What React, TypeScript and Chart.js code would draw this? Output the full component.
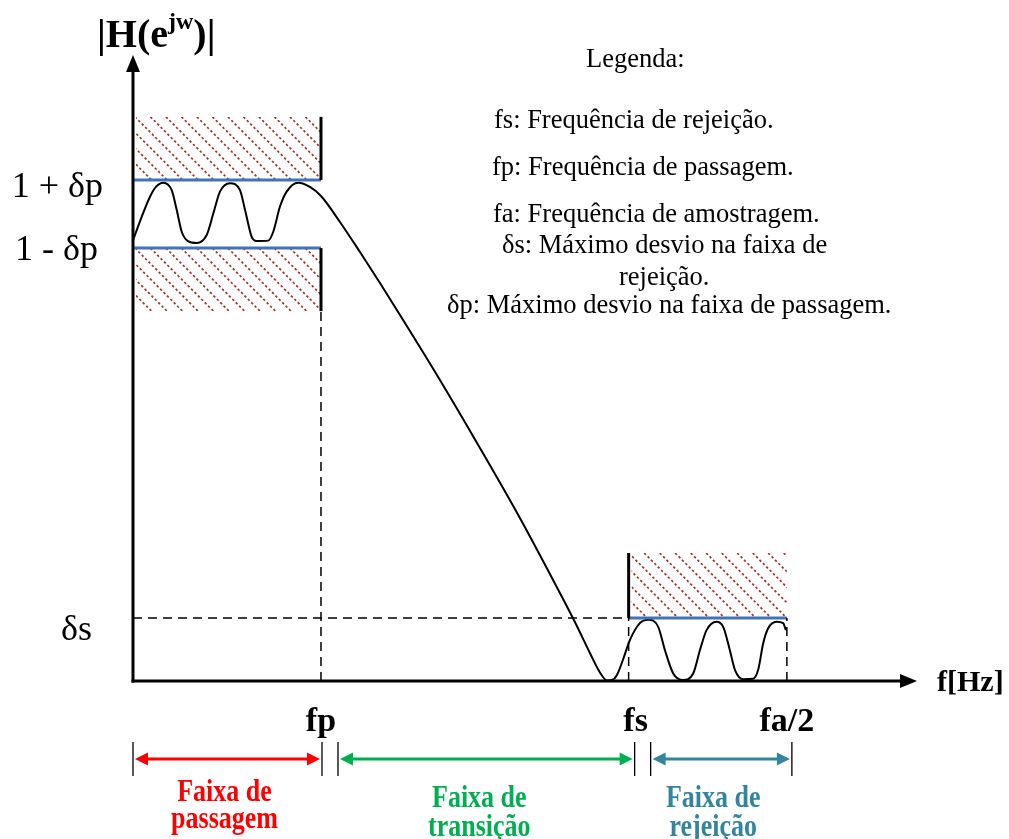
import { useEffect, useRef } from "react";
import { Chart, registerables } from "chart.js";

Chart.register(...registerables);

// ---- Specification (frequency normalised so that fa/2 = 1) ----
const F_PASS = 0.2875; // fp
const F_STOP = 0.758; // fs
const F_HALF = 1.0; // fa/2
const X_MAX = 1.199;

const PASS_UPPER = 1.073; // 1 + δp
const PASS_LOWER = 0.927; // 1 - δp
const STOP_LEVEL = 0.135; // δs
const PASS_FORBID_TOP = 1.208;
const PASS_FORBID_BOTTOM = 0.792;
const STOP_FORBID_TOP = 0.274;
const Y_MAX = 1.3405;

// ---- Magnitude response |H(e^jw)| ----
const responseFreq = [
  0.0, 0.0133, 0.026, 0.035, 0.0463, 0.0592, 0.0668, 0.0745, 0.084, 0.0974,
  0.1127, 0.1228, 0.133, 0.1483, 0.1636, 0.1713, 0.1815, 0.1891, 0.2069, 0.2145,
  0.2248, 0.235, 0.2528, 0.2706, 0.2875, 0.3165, 0.3471, 0.3777, 0.4083, 0.4694,
  0.5306, 0.5917, 0.6529, 0.6758, 0.6988, 0.711, 0.7171, 0.7248, 0.7324, 0.7401,
  0.7492, 0.76, 0.7752, 0.788, 0.8032, 0.8135, 0.8262, 0.8414, 0.8567, 0.867,
  0.8772, 0.8925, 0.9026, 0.9128, 0.9205, 0.9332, 0.9485, 0.9561, 0.9638, 0.9714,
  0.9842, 0.9943, 0.9985,
];
const responseMag = [
  0.944, 0.994, 1.037, 1.058, 1.067, 1.051, 1.009, 0.962, 0.942, 0.938,
  0.955, 1.001, 1.048, 1.066, 1.051, 1.009, 0.951, 0.942, 0.943, 0.962,
  1.016, 1.048, 1.067, 1.058, 1.0385, 0.983, 0.9186, 0.8522, 0.7837, 0.6445,
  0.4989, 0.349, 0.1884, 0.1263, 0.06, 0.0257, 0.0118, 0.001, 0.002, 0.0128,
  0.045, 0.088, 0.124, 0.131, 0.116, 0.066, 0.016, 0.002, 0.016, 0.066,
  0.109, 0.127, 0.116, 0.066, 0.024, 0.004, 0.005, 0.024, 0.081, 0.113,
  0.127, 0.124, 0.109,
];

// ---- Labels ----
const freqTickValues = [F_PASS, F_STOP, F_HALF];
const freqTickLabels = ["fp", "fs", "fa/2"];
const magTickValues = [PASS_UPPER, PASS_LOWER, STOP_LEVEL];
const magTickLabels = ["1 + δp", "1 - δp", "δs"];
const legendLines = [
  "Legenda:",
  "fs: Frequência de rejeição.",
  "fp: Frequência de passagem.",
  "fa: Frequência de amostragem.",
  "δs: Máximo desvio na faixa de",
  "rejeição.",
  "δp: Máximo desvio na faixa de passagem.",
];
const bandStarts = [0, F_PASS, F_STOP];
const bandEnds = [F_PASS, F_STOP, F_HALF];
const bandLines = [
  ["Faixa de", "passagem"],
  ["Faixa de", "transição"],
  ["Faixa de", "rejeição"],
];

// ---- Styling ----
const SERIF = '"Liberation Serif", "Times New Roman", Times, serif';
const LIMIT_BLUE = "#4272B8";
const HATCH_RED = "#9E3429";
const BAND_COLORS = ["#FF0000", "#00B050", "#31859C"];
// pixel nudges for the magnitude tick labels: [right edge offset from axis, baseline offset]
const MAG_LABEL_NUDGE = [
  [-30, 17],
  [-35, 12],
  [-41, 22],
];
const FREQ_LABEL_NUDGE = [0, 7, 0];
// legend text placement: [left x, baseline y]
const LEGEND_POS = [
  [586, 67],
  [494, 128],
  [492, 175],
  [493, 222],
  [502, 253],
  [619, 285],
  [447, 313],
];
// band arrow end offsets (px) relative to the band limits
const BAND_OFFSETS = [
  [0, 1],
  [17, 6],
  [22, 5],
];
const BAND_TEXT_DX = [-3, -7, -8];
const BAND_TEXT_BASE = [
  [801, 828],
  [807, 836],
  [807, 836],
];

const seg = (x0: number, y0: number, x1: number, y1: number) => [
  { x: x0, y: y0 },
  { x: x1, y: y1 },
];

const lineSet = (data: any[], color: string, width: number, dash: number[] = []) => ({
  data,
  borderColor: color,
  borderWidth: width,
  borderDash: dash,
  pointRadius: 0,
  fill: false,
  tension: 0,
});

const decorPlugin = {
  id: "filterSpecDecor",
  beforeDatasetsDraw(chart: any) {
    const { ctx, scales } = chart;
    const xs = scales.x;
    const ys = scales.y;
    const boxes = [
      [0, F_PASS, PASS_FORBID_TOP, PASS_UPPER],
      [0, F_PASS, PASS_LOWER, PASS_FORBID_BOTTOM],
      [F_STOP, F_HALF, STOP_FORBID_TOP, STOP_LEVEL],
    ];
    boxes.forEach(([a, b, top, bottom]) => {
      const x0 = xs.getPixelForValue(a) + 3;
      const x1 = xs.getPixelForValue(b);
      const y0 = ys.getPixelForValue(top);
      const y1 = ys.getPixelForValue(bottom);
      const h = y1 - y0;
      ctx.save();
      ctx.beginPath();
      ctx.rect(x0, y0, x1 - x0, h);
      ctx.clip();
      ctx.strokeStyle = HATCH_RED;
      ctx.lineWidth = 1.7;
      ctx.setLineDash([2.4, 2.4]);
      ctx.beginPath();
      for (let sx = x0 - h; sx < x1 + 2; sx += 15.5) {
        ctx.moveTo(sx, y0);
        ctx.lineTo(sx + h, y1);
      }
      ctx.stroke();
      ctx.restore();
    });
  },
  afterDatasetsDraw(chart: any) {
    const { ctx, chartArea } = chart;
    const { left, right, top, bottom } = chartArea;
    ctx.save();
    ctx.strokeStyle = "#000";
    ctx.fillStyle = "#000";
    ctx.lineWidth = 3;
    ctx.setLineDash([]);
    // vertical axis
    ctx.beginPath();
    ctx.moveTo(left, bottom + 1.5);
    ctx.lineTo(left, top + 12);
    ctx.stroke();
    ctx.beginPath();
    ctx.moveTo(left, top);
    ctx.lineTo(left - 7, top + 17);
    ctx.lineTo(left + 7, top + 17);
    ctx.closePath();
    ctx.fill();
    // horizontal axis
    ctx.beginPath();
    ctx.moveTo(left - 1.5, bottom);
    ctx.lineTo(right - 12, bottom);
    ctx.stroke();
    ctx.beginPath();
    ctx.moveTo(right, bottom);
    ctx.lineTo(right - 17, bottom - 7);
    ctx.lineTo(right - 17, bottom + 7);
    ctx.closePath();
    ctx.fill();
    ctx.restore();
  },
  afterDraw(chart: any) {
    const { ctx, chartArea, scales } = chart;
    const xs = scales.x;
    const ys = scales.y;
    ctx.save();
    ctx.fillStyle = "#000";
    ctx.textBaseline = "alphabetic";

    // axis titles
    ctx.textAlign = "left";
    let tx = 97;
    ctx.font = `bold 40px ${SERIF}`;
    ctx.fillText("|H(e", tx, 47);
    tx += ctx.measureText("|H(e").width;
    ctx.font = `bold 24px ${SERIF}`;
    ctx.fillText("jw", tx, 29);
    tx += ctx.measureText("jw").width;
    ctx.font = `bold 40px ${SERIF}`;
    ctx.fillText(")|", tx, 47);

    ctx.font = `bold 30px ${SERIF}`;
    ctx.fillText("f[Hz]", chartArea.right + 20, chartArea.bottom + 10);

    // magnitude tick labels
    ctx.font = `36px ${SERIF}`;
    ctx.textAlign = "right";
    magTickValues.forEach((v, i) => {
      const [dx, dy] = MAG_LABEL_NUDGE[i];
      ctx.fillText(magTickLabels[i], chartArea.left + dx, ys.getPixelForValue(v) + dy);
    });

    // frequency tick labels
    ctx.font = `bold 34px ${SERIF}`;
    ctx.textAlign = "center";
    freqTickValues.forEach((v, i) => {
      ctx.fillText(freqTickLabels[i], xs.getPixelForValue(v) + FREQ_LABEL_NUDGE[i], 731);
    });

    // legend block
    ctx.font = `26.5px ${SERIF}`;
    ctx.textAlign = "left";
    legendLines.forEach((t, i) => {
      ctx.fillText(t, LEGEND_POS[i][0], LEGEND_POS[i][1]);
    });

    // band arrows
    const ay = 759;
    bandStarts.forEach((s, i) => {
      const a = xs.getPixelForValue(s) + BAND_OFFSETS[i][0];
      const b = xs.getPixelForValue(bandEnds[i]) + BAND_OFFSETS[i][1];
      const col = BAND_COLORS[i];
      ctx.strokeStyle = "#000";
      ctx.lineWidth = 1.3;
      ctx.beginPath();
      ctx.moveTo(a, 742);
      ctx.lineTo(a, 776);
      ctx.moveTo(b, 742);
      ctx.lineTo(b, 776);
      ctx.stroke();
      ctx.strokeStyle = col;
      ctx.fillStyle = col;
      ctx.lineWidth = 3;
      ctx.beginPath();
      ctx.moveTo(a + 10, ay);
      ctx.lineTo(b - 10, ay);
      ctx.stroke();
      ctx.beginPath();
      ctx.moveTo(a + 2, ay);
      ctx.lineTo(a + 15, ay - 6.5);
      ctx.lineTo(a + 15, ay + 6.5);
      ctx.closePath();
      ctx.fill();
      ctx.beginPath();
      ctx.moveTo(b - 2, ay);
      ctx.lineTo(b - 15, ay - 6.5);
      ctx.lineTo(b - 15, ay + 6.5);
      ctx.closePath();
      ctx.fill();

      // band name, drawn slightly tall and narrow
      ctx.font = `bold 26px ${SERIF}`;
      ctx.textAlign = "center";
      const cx = (a + b) / 2 + BAND_TEXT_DX[i];
      bandLines[i].forEach((t, k) => {
        ctx.save();
        ctx.translate(cx, BAND_TEXT_BASE[i][k]);
        ctx.scale(1, 1.22);
        ctx.fillText(t, 0, 0);
        ctx.restore();
      });
    });
    ctx.restore();
  },
};

export default function App() {
  const canvasRef = useRef<HTMLCanvasElement | null>(null);

  useEffect(() => {
    const canvas = canvasRef.current;
    if (!canvas) return;
    const response = responseFreq.map((f, i) => ({ x: f, y: responseMag[i] }));

    const chart = new Chart(canvas, {
      type: "line",
      data: {
        datasets: [
          // forbidden-region edges
          lineSet(seg(F_PASS, PASS_UPPER, F_PASS, PASS_FORBID_TOP), "#000", 3),
          lineSet(seg(F_PASS, PASS_FORBID_BOTTOM, F_PASS, PASS_LOWER), "#000", 3),
          lineSet(seg(F_STOP, STOP_LEVEL, F_STOP, STOP_FORBID_TOP), "#000", 3),
          // guide lines
          lineSet(seg(F_PASS, 0, F_PASS, PASS_FORBID_BOTTOM), "#000", 1.5, [9, 6]),
          lineSet(seg(0, STOP_LEVEL, F_STOP, STOP_LEVEL), "#000", 1.5, [9, 6]),
          lineSet(seg(F_STOP, 0, F_STOP, STOP_LEVEL), "#000", 1.5, [9, 6]),
          lineSet(seg(F_HALF, 0, F_HALF, STOP_LEVEL), "#000", 1.5, [9, 6]),
          // tolerance limits
          lineSet(seg(0, PASS_UPPER, F_PASS, PASS_UPPER), LIMIT_BLUE, 3),
          lineSet(seg(0, PASS_LOWER, F_PASS, PASS_LOWER), LIMIT_BLUE, 3),
          lineSet(seg(F_STOP, STOP_LEVEL, F_HALF, STOP_LEVEL), LIMIT_BLUE, 3),
          // magnitude response
          {
            data: response,
            borderColor: "#000",
            borderWidth: 2,
            pointRadius: 0,
            fill: false,
            cubicInterpolationMode: "monotone",
          } as any,
        ],
      },
      options: {
        animation: false,
        responsive: false,
        devicePixelRatio: 1,
        layout: { padding: { left: 133, right: 92, top: 55, bottom: 158 } },
        plugins: {
          legend: { display: false },
          tooltip: { enabled: false },
          title: { display: false },
        },
        events: [],
        scales: {
          x: { type: "linear", min: 0, max: X_MAX, display: false },
          y: { type: "linear", min: 0, max: Y_MAX, display: false },
        },
      },
      plugins: [decorPlugin],
    });
    return () => chart.destroy();
  }, []);

  return (
    <div style={{ position: "absolute", left: 0, top: 0, width: 1009, height: 839, background: "#fff" }}>
      <canvas ref={canvasRef} width={1009} height={839} style={{ display: "block" }} />
    </div>
  );
}
